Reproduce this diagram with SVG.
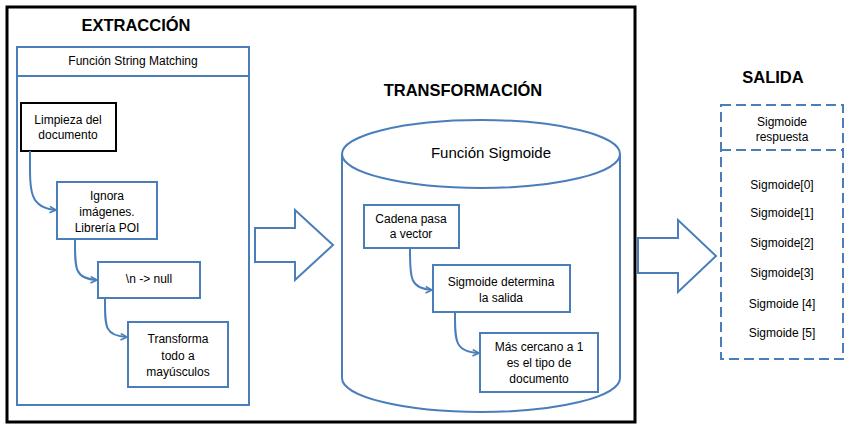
<svg xmlns="http://www.w3.org/2000/svg" width="859" height="430" viewBox="0 0 859 430">
<defs>
<style>
.t{font-family:"Liberation Sans",Arial,sans-serif;font-size:12px;fill:#000;text-anchor:middle}
.h{font-family:"Liberation Sans",Arial,sans-serif;font-size:16.5px;font-weight:bold;fill:#000;text-anchor:middle}
.b{fill:#fff;stroke:#4a7ebb;stroke-width:2}
.c{fill:none;stroke:#4a7ebb;stroke-width:2;marker-end:url(#ah)}
.d{fill:#fff;stroke:#4a7ebb;stroke-width:2;stroke-dasharray:10 5}
</style>
<marker id="ah" viewBox="0 0 10 10" refX="9" refY="5" markerWidth="8" markerHeight="8" markerUnits="userSpaceOnUse" orient="auto">
<path d="M1,1 L9,5 L1,9" fill="none" stroke="#4a7ebb" stroke-width="2"/>
</marker>
</defs>
<rect width="859" height="430" fill="#fff"/>
<rect id="frame" x="7" y="7" width="628" height="415" fill="none" stroke="#000" stroke-width="3"/>

<g id="extraccion">
<text class="h" x="136" y="31">EXTRACCIÓN</text>
<rect class="b" x="17" y="47" width="232" height="358"/>
<line x1="17" y1="76" x2="249" y2="76" stroke="#4a7ebb" stroke-width="2"/>
<text class="t" x="133" y="65">Función String Matching</text>
</g>
<g id="limpieza">
<rect x="21" y="103" width="95" height="48" fill="#fff" stroke="#000" stroke-width="2"/>
<text class="t" x="68" y="124">Limpieza del</text>
<text class="t" x="68" y="139">documento</text>
</g>
<g id="ignora">
<rect class="b" x="57" y="182" width="100" height="57"/>
<text class="t" x="107" y="200">Ignora</text>
<text class="t" x="107" y="216">imágenes.</text>
<text class="t" x="107" y="232">Librería POI</text>
</g>
<g id="null">
<rect class="b" x="98" y="262" width="102" height="36"/>
<text class="t" x="149" y="283">\n -&gt; null</text>
</g>
<g id="mayus">
<rect class="b" x="128" y="322" width="100" height="65"/>
<text class="t" x="178" y="343">Transforma</text>
<text class="t" x="178" y="360">todo a</text>
<text class="t" x="178" y="376">mayúsculos</text>
</g>

<g id="transformacion">
<text class="h" x="463" y="96">TRANSFORMACIÓN</text>
<path class="b" d="M342,154 L342,378 A139,34 0 0 0 620,378 L620,154"/>
<ellipse class="b" cx="481" cy="154" rx="139" ry="34"/>
<text class="t" x="491" y="158" style="font-size:15px">Función Sigmoide</text>
</g>
<g id="cadena">
<rect class="b" x="364" y="205" width="95" height="43"/>
<text class="t" x="411" y="223">Cadena pasa</text>
<text class="t" x="411" y="238">a vector</text>
</g>
<g id="determina">
<rect class="b" x="433" y="265" width="137" height="47"/>
<text class="t" x="501" y="286">Sigmoide determina</text>
<text class="t" x="501" y="302">la salida</text>
</g>
<g id="cercano">
<rect class="b" x="480" y="333" width="118" height="59"/>
<text class="t" x="539" y="351">Más cercano a 1</text>
<text class="t" x="539" y="367">es el tipo de</text>
<text class="t" x="539" y="383">documento</text>
</g>

<g id="salida">
<text class="h" x="773" y="83">SALIDA</text>
<rect class="d" x="721" y="105" width="122" height="254"/>
<line x1="721" y1="150" x2="843" y2="150" stroke="#4a7ebb" stroke-width="2" stroke-dasharray="10 5"/>
<text class="t" x="782" y="126">Sigmoide</text>
<text class="t" x="782" y="141">respuesta</text>
<text class="t" x="782" y="189">Sigmoide[0]</text>
<text class="t" x="782" y="217">Sigmoide[1]</text>
<text class="t" x="782" y="247">Sigmoide[2]</text>
<text class="t" x="782" y="277">Sigmoide[3]</text>
<text class="t" x="782" y="308">Sigmoide [4]</text>
<text class="t" x="782" y="337">Sigmoide [5]</text>
</g>

<g id="connectors">
<path class="c" d="M30,151 C30,190 28,208 56,210"/>
<path class="c" d="M75,239 C75,268 74,279 97,280"/>
<path class="c" d="M105,298 C105,326 104,336 127,337"/>
<path class="c" d="M410,248 C410,276 409,289 432,290"/>
<path class="c" d="M455,312 C455,340 454,352 479,353"/>
<path class="b" d="M255,228 L295,228 L295,210 L333,245 L295,280 L295,262 L255,262 Z"/>
<path class="b" d="M638,238 L678,238 L678,220 L716,256 L678,292 L678,273 L638,273 Z"/>
</g>
</svg>
